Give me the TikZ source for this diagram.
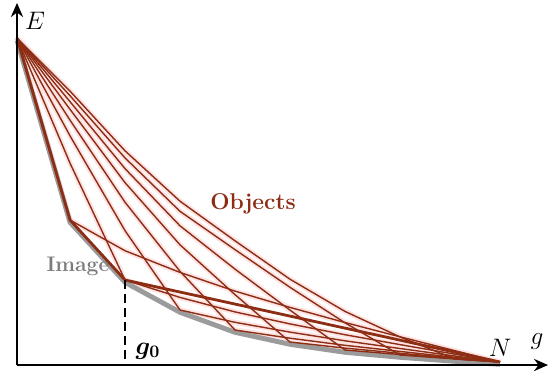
\documentclass[tikz,border=0pt]{standalone}
\usetikzlibrary{arrows.meta}

\definecolor{objcol}{RGB}{140,45,20}
\definecolor{imgcol}{RGB}{155,155,155}

% the object curves, each one touching the image curve once
\newcommand{\objcurves}[1]{%
  \draw[#1] (p0) -- (p1) -- (125,250.7) -- (180,272.4) -- (235,291.1) -- (290,307.4) -- (345,322.5) -- (400,336.8) -- (455,350.7) -- (p9);
  \draw[#1] (p0) -- (70,163.1) -- (p2) -- (180,297.4) -- (235,311.9) -- (290,323.9) -- (345,334.7) -- (400,344.6) -- (455,354.2) -- (p9);
  \draw[#1] (p0) -- (70,135.8) -- (125,230.6) -- (p3) -- (235,322.3) -- (290,332.1) -- (345,340.8) -- (400,348.5) -- (455,356.0) -- (p9);
  \draw[#1] (p0) -- (70,120.1) -- (125,202.2) -- (180,271.3) -- (p4) -- (290,338.2) -- (345,345.3) -- (400,351.4) -- (455,357.3) -- (p9);
  \draw[#1] (p0) -- (70,109.3) -- (125,182.6) -- (180,244.8) -- (235,294.6) -- (p5) -- (345,348.1) -- (400,353.2) -- (455,358.1) -- (p9);
  \draw[#1] (p0) -- (70,101.6) -- (125,168.6) -- (180,225.8) -- (235,269.1) -- (290,310.1) -- (p6) -- (400,354.5) -- (455,358.7) -- (p9);
  \draw[#1] (p0) -- (70,95.7) -- (125,157.9) -- (180,211.3) -- (235,249.6) -- (290,287.3) -- (345,322.8) -- (p7) -- (455,358.9) -- (p9);
  \draw[#1] (p0) -- (70,91.1) -- (125,150.8) -- (180,201.2) -- (235,240.8) -- (290,279.2) -- (345,311.4) -- (400,336.9) -- (p8) -- (p9);
}

\begin{document}
\begin{tikzpicture}[
    x=0.02cm, y=-0.02cm,
    halo/.style={draw=red!11, line width=3pt, line join=round},
    objline/.style={draw=objcol, line width=0.8pt, line join=round},
    boldobj/.style={draw=objcol, line width=1.6pt, line join=round},
    imgline/.style={draw=imgcol, line width=2.8pt, line join=round},
    axis/.style={-{Stealth[length=8pt,width=7pt]}, line width=0.9pt},
    lbl/.style={font=\fontsize{14}{16}\selectfont}
]
\useasboundingbox (0,0) rectangle (550,380);

% image curve
\coordinate (p0) at (17,38);
\coordinate (p1) at (70,220);
\coordinate (p2) at (125,280);
\coordinate (p3) at (180,310);
\coordinate (p4) at (235,330);
\coordinate (p5) at (290,342);
\coordinate (p6) at (345,350);
\coordinate (p7) at (400,355);
\coordinate (p8) at (455,359);
\coordinate (p9) at (500,362);

\objcurves{halo}
\draw[imgline, transform canvas={yshift=-1.3pt}] (p0) -- (p1) -- (p2) -- (p3) -- (p4) -- (p5) -- (p6) -- (p7) -- (p8) -- (p9);
\objcurves{objline}
\draw[boldobj] (p0) -- (p1) -- (p2) -- (p9);

% axes
\coordinate (O) at (17,365);
\coordinate (ytip) at (17,3);
\coordinate (xtip) at (548,365);
\draw[axis] (O) -- (ytip);
\draw[axis] (O) -- (xtip);

\coordinate (g0foot) at (125,365);
\draw[black, line width=1.6pt, dash pattern=on 5pt off 3pt] (p2) -- (g0foot);

\node[lbl] (elab) at (35,21) {$E$};
\node[lbl] (nlab) at (500,348) {$N$};
\node[font=\fontsize{15}{17}\selectfont] (glab) at (537,341) {$g$};
\node[font=\boldmath\fontsize{14}{16}\selectfont] (g0lab) at (148,351) {$g_0$};
\node[font=\bfseries\fontsize{12}{14}\selectfont, text=imgcol!80!black] (imglab) at (78,266) {Image};
\node[font=\bfseries\fontsize{13}{15}\selectfont, text=objcol] (objlab) at (253,204) {Objects};
\end{tikzpicture}
\end{document}
